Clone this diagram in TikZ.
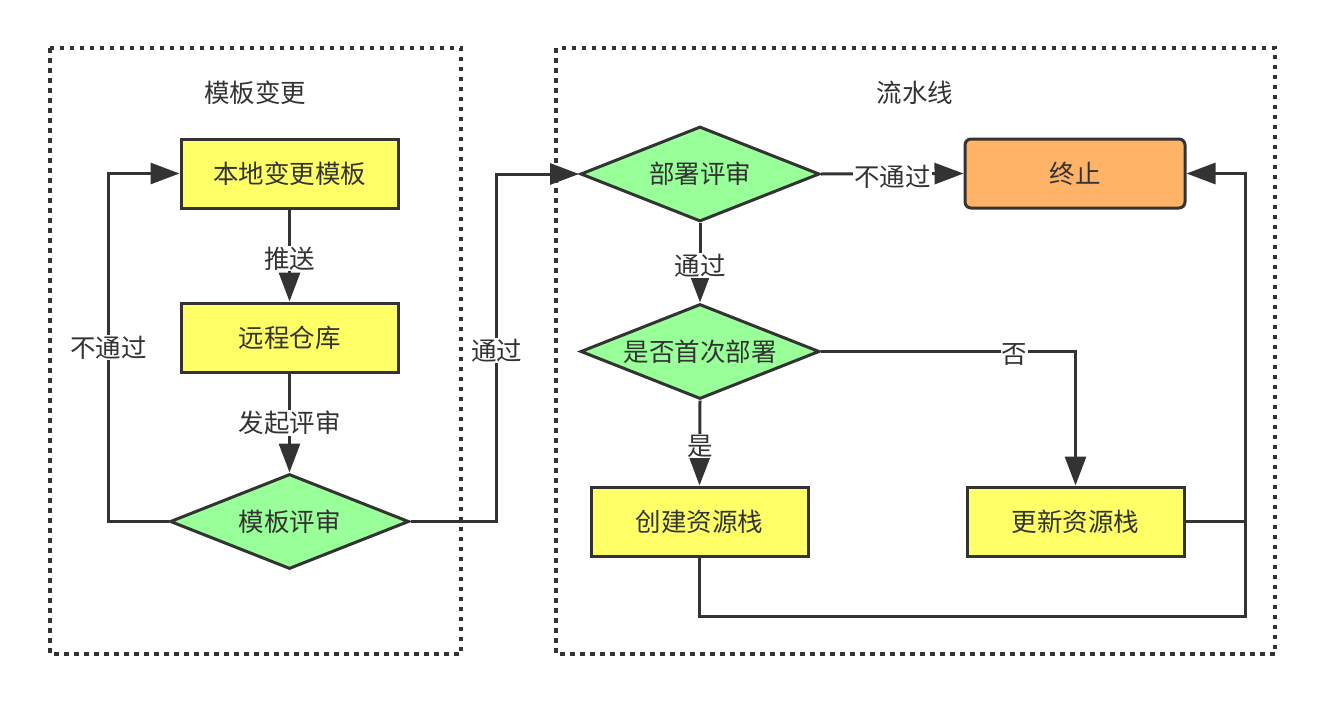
\documentclass[tikz,border=0pt]{standalone}
\usepackage{fontspec}
\newfontfamily\cjk{Noto Sans CJK SC}
\usetikzlibrary{shapes.geometric,arrows.meta}
\definecolor{ink}{HTML}{333333}
\definecolor{yel}{HTML}{FFFF66}
\definecolor{grn}{HTML}{99FF99}
\definecolor{org}{HTML}{FFB366}
\tikzset{
  every node/.style={font=\cjk\fontsize{25.5}{29}\selectfont, text=ink},
  frame/.style={draw=ink, line width=3.5pt, dash pattern=on 4.5pt off 5.5pt},
  procbox/.style={draw=ink, line width=3pt, fill=yel, minimum width=217pt, minimum height=69pt, inner sep=0pt},
  endbox/.style={draw=ink, line width=3pt, fill=org, minimum width=220pt, minimum height=69pt, inner sep=0pt, rounded corners=6pt},
  decision/.style={draw=ink, line width=3pt, fill=grn, diamond, minimum width=239pt, minimum height=95pt, inner sep=0pt, aspect=2.5},
  conn/.style={draw=ink, line width=3pt, -{Triangle[length=29pt,width=21pt]}},
  plain/.style={draw=ink, line width=3pt},
  lbl/.style={fill=white, inner sep=1pt},
}
\begin{document}
\begin{tikzpicture}[x=1pt,y=-1pt]
\useasboundingbox (0,0) rectangle (1324,704);
\fill[white] (0,0) rectangle (1324,704);
% frames
\draw[frame] (50,48) rectangle (461,654);
\draw[frame] (556,48) rectangle (1275,654);
\node (t1) at (255,93) {模板变更};
\node (t2) at (915,93) {流水线};
% left group
\node[procbox] (bd) at (289.5,173.5) {本地变更模板};
\node[procbox] (yc) at (289.5,337.5) {远程仓库};
\node[decision] (mb) at (289.5,521.5) {模板评审};
% right group
\node[decision] (pd) at (700,174) {部署评审};
\node[endbox] (zz) at (1075,173.5) {终止};
\node[decision] (sf) at (700,351.5) {是否首次部署};
\node[procbox] (cj) at (699.5,521.5) {创建资源栈};
\node[procbox] (gx) at (1075.5,521.5) {更新资源栈};
\coordinate (rj) at (1245,521.5);
% connectors
\draw[conn] (bd) -- node[lbl, yshift=-3pt] {推送} (yc);
\draw[conn] (yc) -- node[lbl] {发起评审} (mb);
\draw[conn] (mb.west) -- ++(-60,0) |- node[lbl, pos=0.25] {不通过} (bd.west);
\draw[conn] (mb.east) -- ++(86,0) |- node[lbl, pos=0.25, yshift=-3pt] {通过} (pd.west);
\draw[conn] (pd.east) -- node[lbl, yshift=-3pt] {不通过} (zz.west);
\draw[conn] (pd.south) -- node[lbl, yshift=-3pt] {通过} (sf.north);
\draw[conn] (sf.south) -- node[lbl, yshift=-3pt] {是} (cj.north);
\draw[conn] (sf.east) -| node[lbl, pos=0.38, yshift=-3pt] {否} (gx.north);
\draw[conn] (gx.east) -- (rj) |- (zz.east);
\draw[plain] (cj.south) -- ++(0,59) -| (rj);
\end{tikzpicture}
\end{document}
